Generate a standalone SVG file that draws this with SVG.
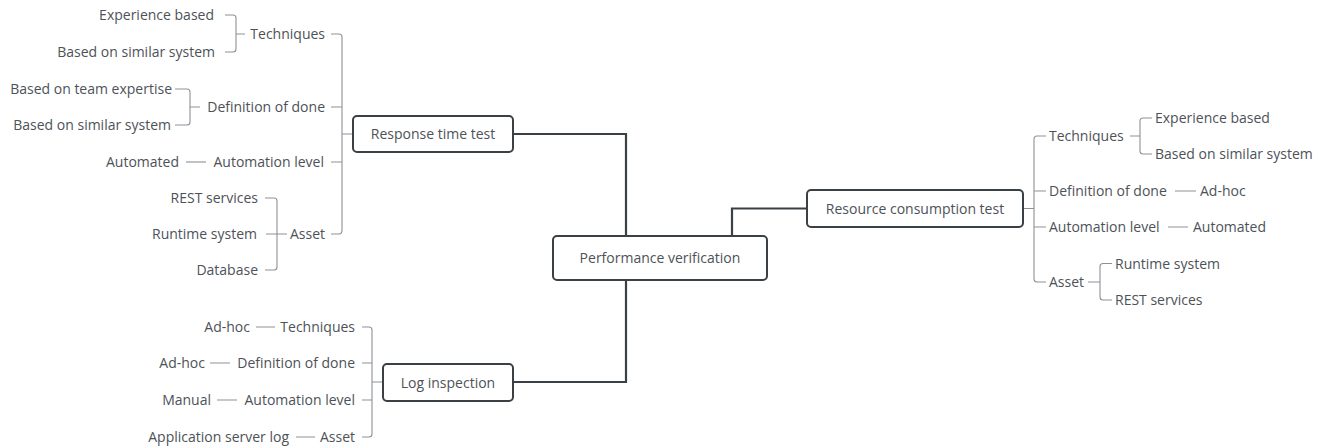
<svg xmlns="http://www.w3.org/2000/svg" width="1328" height="448" viewBox="0 0 1328 448">
<style>
text{font-family:"Open Sans","Noto Sans","Liberation Sans",sans-serif;font-size:14px;fill:#4d5258}
.e{text-anchor:end}
.m{text-anchor:middle}
.box{fill:#ffffff;stroke:#3b4045;stroke-width:2}
.main{fill:none;stroke:#3b4045;stroke-width:2.2}
.br{fill:none;stroke:#8d9297;stroke-width:1.1}
</style>
<rect width="1328" height="448" fill="#ffffff"/>
<g id="connectors">
<path class="main" d="M513,134 H626 V236"/>
<path class="main" d="M626,280 V382 H513"/>
<path class="main" d="M732,236 V208.5 H807"/>
<!-- Response time test brackets -->
<path class="br" d="M331,34 H339 Q342,34 342,37 V230 Q342,234 339,234 H331"/>
<path class="br" d="M331,107 H342 M331,162 H342 M342,134 H353"/>
<path class="br" d="M225,15 H233 Q236,15 236,18 V49 Q236,52 233,52 H225 M236,34 H245"/>
<path class="br" d="M175,89 H187 Q190,89 190,92 V122 Q190,125 187,125 H175 M190,107 H200"/>
<path class="br" d="M186,162 H206"/>
<path class="br" d="M265,198 H274 Q277,198 277,201 V267 Q277,270 274,270 H265 M266,234 H287"/>
<!-- Log inspection brackets -->
<path class="br" d="M362,327 H369 Q372,327 372,330 V434 Q372,437 369,437 H362 M362,363 H372 M362,400 H372 M372,382 H383"/>
<path class="br" d="M256,327 H275 M210,363 H230 M217,400 H237 M296,437 H315"/>
<!-- Resource consumption test brackets -->
<path class="br" d="M1046,136 H1037 Q1034,136 1034,139 V279 Q1034,282 1037,282 H1046 M1034,191 H1046 M1034,227 H1046 M1023,208.5 H1034"/>
<path class="br" d="M1130,136 H1140 M1152,118 H1143 Q1140,118 1140,121 V151 Q1140,154 1143,154 H1152"/>
<path class="br" d="M1175,191 H1196 M1168,227 H1188"/>
<path class="br" d="M1088,282 H1100 M1112,263.5 H1103 Q1100,263.5 1100,266.5 V297 Q1100,300 1103,300 H1112"/>
</g>
<g id="n-performance">
<rect class="box" x="553" y="236" width="214" height="44" rx="4"/>
<text class="m" x="660" y="263">Performance verification</text>
</g>
<g id="n-response">
<rect class="box" x="353" y="116" width="160" height="36" rx="4"/>
<text class="m" x="433" y="139">Response time test</text>
</g>
<g id="n-resource">
<rect class="box" x="807" y="190" width="216" height="37" rx="4"/>
<text class="m" x="915" y="213.5">Resource consumption test</text>
</g>
<g id="n-log">
<rect class="box" x="383" y="364" width="130" height="37" rx="4"/>
<text class="m" x="448" y="387.5">Log inspection</text>
</g>
<g id="n-response-techniques"><text class="e" x="325" y="39">Techniques</text></g>
<g id="n-response-tech-exp"><text class="e" x="214" y="20">Experience based</text></g>
<g id="n-response-tech-sim"><text class="e" x="215" y="57">Based on similar system</text></g>
<g id="n-response-dod"><text class="e" x="325" y="112">Definition of done</text></g>
<g id="n-response-dod-team"><text class="e" x="172" y="94">Based on team expertise</text></g>
<g id="n-response-dod-sim"><text class="e" x="171" y="130">Based on similar system</text></g>
<g id="n-response-auto"><text class="e" x="324" y="167">Automation level</text></g>
<g id="n-response-auto-val"><text class="e" x="179" y="167">Automated</text></g>
<g id="n-response-asset"><text class="e" x="325" y="239">Asset</text></g>
<g id="n-response-asset-rest"><text class="e" x="258" y="203">REST services</text></g>
<g id="n-response-asset-rt"><text class="e" x="257" y="239">Runtime system</text></g>
<g id="n-response-asset-db"><text class="e" x="258" y="275">Database</text></g>
<g id="n-log-techniques"><text class="e" x="355" y="332">Techniques</text></g>
<g id="n-log-tech-val"><text class="e" x="250" y="332">Ad-hoc</text></g>
<g id="n-log-dod"><text class="e" x="355" y="368">Definition of done</text></g>
<g id="n-log-dod-val"><text class="e" x="205" y="368">Ad-hoc</text></g>
<g id="n-log-auto"><text class="e" x="355" y="405">Automation level</text></g>
<g id="n-log-auto-val"><text class="e" x="211" y="405">Manual</text></g>
<g id="n-log-asset"><text class="e" x="355" y="442">Asset</text></g>
<g id="n-log-asset-val"><text class="e" x="289" y="442">Application server log</text></g>
<g id="n-res-techniques"><text x="1049" y="141">Techniques</text></g>
<g id="n-res-tech-exp"><text x="1155" y="123">Experience based</text></g>
<g id="n-res-tech-sim"><text x="1155" y="159">Based on similar system</text></g>
<g id="n-res-dod"><text x="1049" y="196">Definition of done</text></g>
<g id="n-res-dod-val"><text x="1200" y="196">Ad-hoc</text></g>
<g id="n-res-auto"><text x="1049" y="232">Automation level</text></g>
<g id="n-res-auto-val"><text x="1193" y="232">Automated</text></g>
<g id="n-res-asset"><text x="1049" y="287">Asset</text></g>
<g id="n-res-asset-rt"><text x="1115" y="268.5">Runtime system</text></g>
<g id="n-res-asset-rest"><text x="1115" y="305">REST services</text></g>
</svg>
